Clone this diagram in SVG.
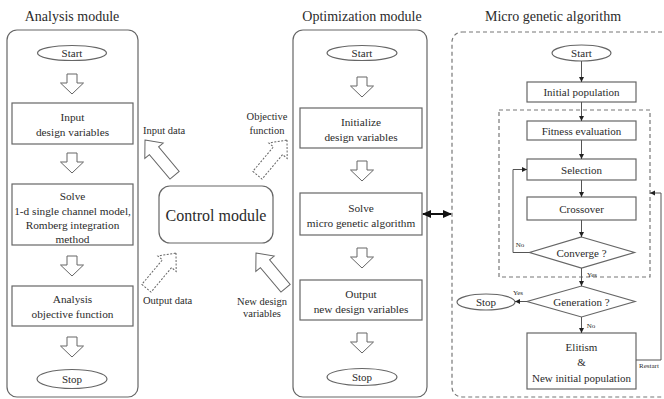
<svg xmlns="http://www.w3.org/2000/svg" width="664" height="399" viewBox="0 0 664 399" font-family="'Liberation Serif', 'DejaVu Serif', serif">
  <defs>
    <style>
      text { font-family: 'Liberation Serif', 'DejaVu Serif', serif; fill: #2b2b2b; text-anchor: middle; }
      .title { font-size: 14px; }
      .t { font-size: 11.3px; }
      .s { font-size: 11px; }
      .ctl { font-size: 16px; }
      .lbl { font-size: 10.5px; }
      .tiny { font-size: 7px; }
      .module { fill: #fff; stroke: #666; stroke-width: 1.2; }
      .box { fill: #fff; stroke: #666; stroke-width: 1.2; }
      .dash { fill: none; stroke: #777; stroke-width: 1.2; stroke-dasharray: 4 3; }
      .hollow { fill: #fff; stroke: #666; stroke-width: 1; }
      .hollowd { fill: #fff; stroke: #666; stroke-width: 1; stroke-dasharray: 2 1.5; }
      .flow { fill: none; stroke: #555; stroke-width: 1; }
      .link { fill: none; stroke: #111; stroke-width: 2; }
    </style>
    <!-- hollow downward block arrow, top centre at origin -->
    <path id="down" d="M-5,0 h10 v9 h6.5 l-11.5,11 l-11.5,-11 h6.5 z"/>
    <!-- hollow block arrow pointing up, tip at origin -->
    <path id="up" d="M0,0 l12,14 h-6 v32 h-12 v-32 h-6 z"/>
    <marker id="tri" markerWidth="6" markerHeight="6" refX="5" refY="3" orient="auto" markerUnits="userSpaceOnUse">
      <path d="M0,0.5 L5,3 L0,5.5 z" fill="#222"/>
    </marker>
    <marker id="big" markerWidth="10" markerHeight="10" refX="8" refY="5" orient="auto-start-reverse" markerUnits="userSpaceOnUse">
      <path d="M0,1 L9,5 L0,9 z" fill="#111"/>
    </marker>
  </defs>

  <!-- module titles -->
  <text class="title" x="72" y="21">Analysis module</text>
  <text class="title" x="362" y="21">Optimization module</text>
  <text class="title" x="553" y="21">Micro genetic algorithm</text>

  <!-- Analysis module -->
  <g id="analysis-module">
    <rect class="module" x="7" y="30" width="131" height="367" rx="10"/>
    <g id="a-start">
      <ellipse class="box" cx="72" cy="53" rx="34.5" ry="7.5"/>
      <text class="s" x="72" y="57">Start</text>
    </g>
    <g id="a-input">
      <rect class="box" x="12" y="103" width="121" height="41"/>
      <text class="t" x="72.5" y="121">Input</text>
      <text class="t" x="72.5" y="136">design variables</text>
    </g>
    <g id="a-solve">
      <rect class="box" x="12" y="184" width="121" height="61"/>
      <text class="t" x="72.5" y="200">Solve</text>
      <text class="t" x="72.5" y="215">1-d single channel model,</text>
      <text class="t" x="72.5" y="229">Romberg integration</text>
      <text class="t" x="72.5" y="243">method</text>
    </g>
    <g id="a-analysis">
      <rect class="box" x="12" y="286" width="121" height="40"/>
      <text class="t" x="72.5" y="303">Analysis</text>
      <text class="t" x="72.5" y="318">objective function</text>
    </g>
    <g id="a-stop">
      <ellipse class="box" cx="72" cy="379" rx="35" ry="9.5"/>
      <text class="s" x="72" y="383">Stop</text>
    </g>
  </g>

  <!-- Optimization module -->
  <g id="optimization-module">
    <rect class="module" x="293" y="30" width="134" height="367" rx="10"/>
    <g id="o-start">
      <ellipse class="box" cx="362" cy="53" rx="35" ry="7.5"/>
      <text class="s" x="362" y="57">Start</text>
    </g>
    <g id="o-init">
      <rect class="box" x="300" y="108" width="122" height="40"/>
      <text class="t" x="361" y="126">Initialize</text>
      <text class="t" x="361" y="141">design variables</text>
    </g>
    <g id="o-solve">
      <rect class="box" x="300" y="193" width="122" height="42"/>
      <text class="t" x="361" y="212">Solve</text>
      <text class="t" x="361" y="227">micro genetic algorithm</text>
    </g>
    <g id="o-output">
      <rect class="box" x="300" y="280" width="122" height="40"/>
      <text class="t" x="361" y="298">Output</text>
      <text class="t" x="361" y="313">new design variables</text>
    </g>
    <g id="o-stop">
      <ellipse class="box" cx="362" cy="377" rx="35" ry="8.5"/>
      <text class="s" x="362" y="381">Stop</text>
    </g>
  </g>

  <!-- Control module -->
  <g id="control-module">
    <rect class="box" x="159" y="186" width="114" height="57" rx="11"/>
    <text class="ctl" x="216" y="221">Control module</text>
  </g>

  <!-- Micro genetic algorithm -->
  <g id="micro-ga">
    <rect class="dash" x="452" y="32" width="222" height="365" rx="10"/>
    <rect class="dash" x="499" y="110" width="151" height="167"/>
    <g id="g-start">
      <ellipse class="box" cx="581.5" cy="53" rx="29.5" ry="8"/>
      <text class="s" x="581.5" y="57">Start</text>
    </g>
    <g id="g-init">
      <rect class="box" x="527" y="82" width="109" height="20"/>
      <text class="s" x="581.5" y="96">Initial population</text>
    </g>
    <g id="g-fitness">
      <rect class="box" x="527" y="121" width="109" height="19"/>
      <text class="s" x="581.5" y="134.5">Fitness evaluation</text>
    </g>
    <g id="g-selection">
      <rect class="box" x="527" y="159" width="109" height="21"/>
      <text class="s" x="581.5" y="173.5">Selection</text>
    </g>
    <g id="g-crossover">
      <rect class="box" x="527" y="197" width="109" height="23"/>
      <text class="s" x="581.5" y="212.5">Crossover</text>
    </g>
    <g id="g-converge">
      <polygon class="box" points="581.5,237 634.5,252.5 581.5,268 529.5,252.5"/>
      <text class="s" x="581.5" y="256.5">Converge ?</text>
    </g>
    <g id="g-generation">
      <polygon class="box" points="581.5,286 635,301.5 581.5,317 527,301.5"/>
      <text class="s" x="581.5" y="305.5">Generation ?</text>
    </g>
    <g id="g-stop">
      <ellipse class="box" cx="486" cy="302" rx="29" ry="8"/>
      <text class="s" x="486" y="306">Stop</text>
    </g>
    <g id="g-elitism">
      <rect class="box" x="527" y="333" width="109" height="56"/>
      <text class="s" x="581.5" y="351">Elitism</text>
      <text class="s" x="581.5" y="366">&amp;</text>
      <text class="s" x="581.5" y="382">New initial population</text>
    </g>
  </g>

  <!-- connectors -->
  <g id="connectors">
    <!-- hollow step arrows inside the modules -->
    <g class="hollow">
      <use href="#down" x="72" y="74"/>
      <use href="#down" x="72" y="153"/>
      <use href="#down" x="72" y="256"/>
      <use href="#down" x="72" y="337"/>
      <use href="#down" x="362" y="77"/>
      <use href="#down" x="362" y="161"/>
      <use href="#down" x="362" y="248"/>
      <use href="#down" x="362" y="333"/>
    </g>

    <!-- data exchange with the control module -->
    <use href="#up" class="hollow" transform="translate(145,140) rotate(-40)"/>
    <use href="#up" class="hollowd" transform="translate(287,140) rotate(40)"/>
    <use href="#up" class="hollowd" transform="translate(176,253) rotate(40)"/>
    <use href="#up" class="hollow" transform="translate(256,253) rotate(-40)"/>
    <text class="lbl" x="143" y="134" style="text-anchor:start">Input data</text>
    <text class="lbl" x="267" y="120">Objective</text>
    <text class="lbl" x="267" y="134">function</text>
    <text class="lbl" x="143" y="304" style="text-anchor:start">Output data</text>
    <text class="lbl" x="262" y="305">New design</text>
    <text class="lbl" x="262" y="317">variables</text>

    <!-- link between optimizer and micro GA -->
    <line class="link" x1="423" y1="214" x2="451" y2="214" marker-start="url(#big)" marker-end="url(#big)"/>

    <!-- micro GA flow -->
    <g class="flow" marker-end="url(#tri)">
      <line x1="581.5" y1="61" x2="581.5" y2="82"/>
      <line x1="581.5" y1="102" x2="581.5" y2="121"/>
      <line x1="581.5" y1="140" x2="581.5" y2="159"/>
      <line x1="581.5" y1="180" x2="581.5" y2="197"/>
      <line x1="581.5" y1="220" x2="581.5" y2="237"/>
      <line x1="581.5" y1="268" x2="581.5" y2="286"/>
      <line x1="581.5" y1="317" x2="581.5" y2="333"/>
      <line x1="527" y1="301.5" x2="515" y2="301.5"/>
      <polyline points="529.5,252.5 513,252.5 513,169.5 527,169.5"/>
      <polyline points="636,360 661,360 661,193 650,193"/>
    </g>
    <text class="tiny" x="520" y="247">No</text>
    <text class="tiny" x="592" y="277">Yes</text>
    <text class="tiny" x="518" y="295">Yes</text>
    <text class="tiny" x="591" y="328">No</text>
    <text class="tiny" x="639" y="368" style="text-anchor:start">Restart</text>
  </g>
</svg>
